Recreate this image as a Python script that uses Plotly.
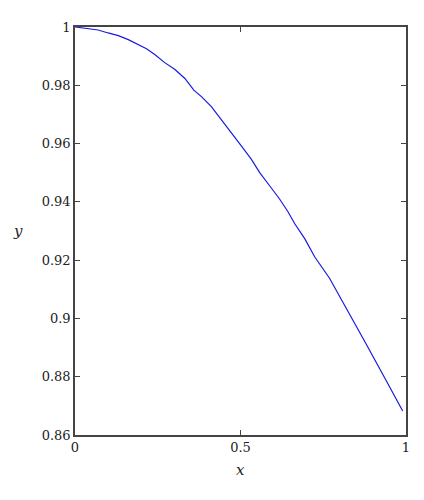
import plotly.graph_objects as go

x_vals = [0.0, 0.040, 0.070, 0.100, 0.131, 0.161, 0.191, 0.216, 0.241, 0.271, 0.302,
          0.332, 0.359, 0.382, 0.412, 0.443, 0.478, 0.503, 0.533, 0.558, 0.588,
          0.618, 0.643, 0.664, 0.694, 0.724, 0.769, 0.820, 0.880, 0.940, 0.990]
y_vals = [1.0, 0.99942, 0.99898, 0.99796, 0.99704, 0.99568, 0.99399, 0.99252, 0.99059,
          0.98777, 0.98539, 0.98233, 0.97835, 0.97611, 0.97271, 0.96816, 0.96306,
          0.95912, 0.95457, 0.95005, 0.94553, 0.94098, 0.93669, 0.93248, 0.92738,
          0.92116, 0.91379, 0.90360, 0.89116, 0.87869, 0.86826]

x_ticks = [0, 0.5, 1]
x_tick_labels = ["0", "0.5", "1"]
y_ticks = [0.86, 0.88, 0.9, 0.92, 0.94, 0.96, 0.98, 1.0]
y_tick_labels = ["0.86", "0.88", "0.9", "0.92", "0.94", "0.96", "0.98", "1"]

font_family = "DejaVu Serif"
axis_color = "#444444"

fig = go.Figure()
fig.add_trace(go.Scatter(x=x_vals, y=y_vals, mode="lines",
                         line=dict(color="#1a1ae0", width=1.2),
                         showlegend=False, hoverinfo="skip"))

common = dict(showgrid=False, zeroline=False, showline=True, linecolor=axis_color,
              linewidth=1.5, mirror="ticks", ticks="inside", ticklen=5, tickwidth=1.2,
              tickcolor=axis_color,
              tickfont=dict(family=font_family, size=13, color="#222222"))

fig.update_xaxes(range=[0, 1], tickvals=x_ticks, ticktext=x_tick_labels, **common)
fig.update_yaxes(range=[0.86, 1.0], tickvals=y_ticks, ticktext=y_tick_labels, **common)

fig.add_annotation(text="<i>x</i>", xref="paper", yref="paper", x=0.5, y=0,
                   xanchor="center", yanchor="middle", yshift=-35, showarrow=False,
                   font=dict(family=font_family, size=15, color="#222222"))
fig.add_annotation(text="<i>y</i>", xref="paper", yref="paper", x=0, y=0.5,
                   xanchor="center", yanchor="middle", xshift=-57, showarrow=False,
                   font=dict(family=font_family, size=15, color="#222222"))

fig.update_layout(width=416, height=492, margin=dict(l=67, r=18, t=15, b=65),
                  plot_bgcolor="white", paper_bgcolor="white")

fig.write_html("out.html")
